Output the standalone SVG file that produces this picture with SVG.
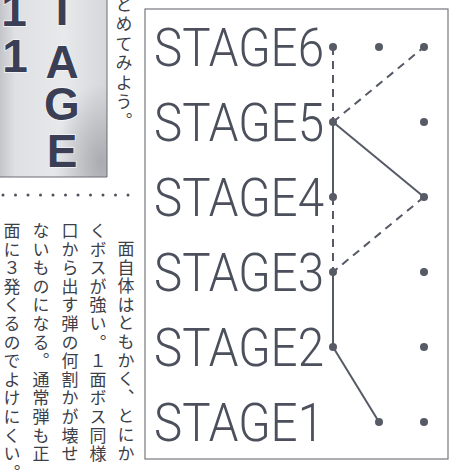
<svg xmlns="http://www.w3.org/2000/svg" width="451" height="470" viewBox="0 0 451 470">
  <defs>
    <linearGradient id="photoBg" x1="0" y1="0" x2="1" y2="0">
      <stop offset="0" stop-color="#c3c5ca"/>
      <stop offset="0.14" stop-color="#dfe0e3"/>
      <stop offset="0.6" stop-color="#e8e9eb"/>
      <stop offset="1" stop-color="#d6d7da"/>
    </linearGradient>
    <radialGradient id="photoShade" cx="0.95" cy="0.92" r="0.45">
      <stop offset="0" stop-color="#a4a6ab" stop-opacity="0.9"/>
      <stop offset="1" stop-color="#a4a6ab" stop-opacity="0"/>
    </radialGradient>
    <style>
      .stage { font-family: Roboto, "Liberation Sans", sans-serif; font-weight: 300; font-size: 53px; fill: #4b505c; }
      .big { font-family: "Liberation Sans", Arial, sans-serif; font-weight: bold; font-size: 46px; fill: #3b3f56; stroke: #f4f4f6; stroke-width: 1.5; paint-order: stroke; text-anchor: middle; }
      .jp { font-family: "Noto Sans CJK JP", "Noto Sans CJK SC", sans-serif; font-size: 17px; fill: #3d4049; writing-mode: vertical-rl; text-orientation: upright; letter-spacing: 1.6px; }
      .dot { fill: #565b66; }
      .solid { stroke: #555a66; stroke-width: 2; fill: none; }
      .dash { stroke: #555a66; stroke-width: 2; fill: none; stroke-dasharray: 8 6; }
    </style>
  </defs>

  <rect width="451" height="470" fill="#ffffff"/>

  <!-- photo panel -->
  <g id="photo">
    <rect x="0" y="0" width="107" height="177" fill="url(#photoBg)"/>
    <rect x="0" y="0" width="107" height="177" fill="url(#photoShade)"/>
    <line x1="107" y1="0" x2="107" y2="177" stroke="#6a6c72" stroke-width="1"/>
    <line x1="0" y1="177" x2="107" y2="177" stroke="#6a6c72" stroke-width="1"/>
    <text class="big" x="14" y="26">1</text>
    <text class="big" x="15" y="72">1</text>
    <text class="big" x="62" y="25">T</text>
    <text class="big" x="62" y="78">A</text>
    <text class="big" x="62" y="120">G</text>
    <text class="big" x="62" y="167">E</text>
  </g>

  <g id="caption-top">
    <text class="jp" x="124" y="-4" style="letter-spacing:2.4px">とめてみよう。</text>
  </g>

  <line id="dotted-rule" x1="3" y1="195" x2="135" y2="195" stroke="#4f535d" stroke-width="3" stroke-linecap="round" stroke-dasharray="0 12.5"/>

  <g id="body-text">
    <text class="jp" x="126" y="240">面自体はともかく、とにか</text>
    <text class="jp" x="98" y="222">くボスが強い。１面ボス同様</text>
    <text class="jp" x="70" y="222">口から出す弾の何割かが壊せ</text>
    <text class="jp" x="41" y="222">ないものになる。通常弾も正</text>
    <text class="jp" x="12" y="222">面に３発くるのでよけにくい。</text>
  </g>

  <!-- chart frame -->
  <rect id="frame" x="145" y="9" width="303" height="450" fill="none" stroke="#76787e" stroke-width="1.2"/>

  <g id="connectors">
    <line class="dash" x1="333" y1="47" x2="333" y2="122"/>
    <line class="dash" x1="333" y1="122" x2="424" y2="47"/>
    <line class="solid" x1="333" y1="122" x2="333" y2="197"/>
    <line class="solid" x1="333" y1="122" x2="424" y2="197"/>
    <line class="dash" x1="333" y1="197" x2="333" y2="272"/>
    <line class="dash" x1="424" y1="197" x2="333" y2="272"/>
    <line class="solid" x1="333" y1="272" x2="333" y2="347"/>
    <line class="solid" x1="333" y1="347" x2="379" y2="422"/>
  </g>

  <g id="stage6">
    <text class="stage" x="154" y="66" textLength="170" lengthAdjust="spacingAndGlyphs">STAGE6</text>
    <circle class="dot" cx="333" cy="47" r="4"/>
    <circle class="dot" cx="379" cy="47" r="4"/>
    <circle class="dot" cx="424" cy="47" r="4"/>
  </g>
  <g id="stage5">
    <text class="stage" x="154" y="141" textLength="170" lengthAdjust="spacingAndGlyphs">STAGE5</text>
    <circle class="dot" cx="333" cy="122" r="4"/>
    <circle class="dot" cx="424" cy="122" r="4"/>
  </g>
  <g id="stage4">
    <text class="stage" x="154" y="216" textLength="170" lengthAdjust="spacingAndGlyphs">STAGE4</text>
    <circle class="dot" cx="333" cy="197" r="4"/>
    <circle class="dot" cx="424" cy="197" r="4"/>
  </g>
  <g id="stage3">
    <text class="stage" x="154" y="291" textLength="170" lengthAdjust="spacingAndGlyphs">STAGE3</text>
    <circle class="dot" cx="333" cy="272" r="4"/>
    <circle class="dot" cx="424" cy="272" r="4"/>
  </g>
  <g id="stage2">
    <text class="stage" x="154" y="366" textLength="170" lengthAdjust="spacingAndGlyphs">STAGE2</text>
    <circle class="dot" cx="333" cy="347" r="4"/>
    <circle class="dot" cx="424" cy="347" r="4"/>
  </g>
  <g id="stage1">
    <text class="stage" x="154" y="441" textLength="170" lengthAdjust="spacingAndGlyphs">STAGE1</text>
    <circle class="dot" cx="379" cy="422" r="4"/>
    <circle class="dot" cx="424" cy="422" r="4"/>
  </g>
</svg>
